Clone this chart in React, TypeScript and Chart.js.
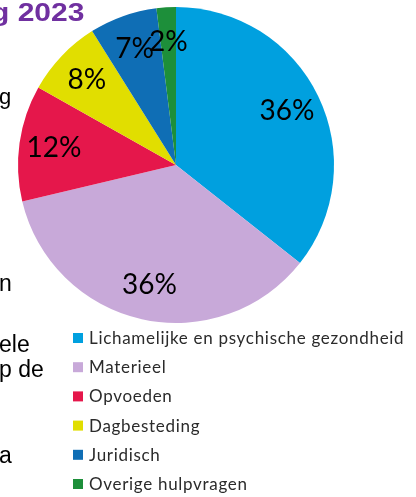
import React, { useEffect, useRef } from "react";
import { Chart, registerables } from "chart.js";

Chart.register(...registerables);

const categories = [
  "Lichamelijke en psychische gezondheid",
  "Materieel",
  "Opvoeden",
  "Dagbesteding",
  "Juridisch",
  "Overige hulpvragen",
];
const percentages = [36, 36, 12, 8, 7, 2];
const sliceColors = ["#00A0DF", "#C8A9D9", "#E5174B", "#E1DE00", "#0F6EB5", "#1D8F3A"];

const labelPlugin = {
  id: "sliceLabels",
  afterDatasetsDraw(chart: any) {
    const ctx = chart.ctx;
    const meta = chart.getDatasetMeta(0);
    const data = chart.data.datasets[0].data as number[];
    ctx.save();
    ctx.font = "28px Lato";
    ctx.fillStyle = "#000000";
    ctx.textAlign = "center";
    ctx.textBaseline = "middle";
    meta.data.forEach((arc: any, i: number) => {
      const p = arc.getProps(["x", "y", "startAngle", "endAngle", "outerRadius"], true);
      const mid = (p.startAngle + p.endAngle) / 2;
      const r = p.outerRadius * 0.78;
      ctx.fillText(data[i] + "%", p.x + Math.cos(mid) * r, p.y + Math.sin(mid) * r);
    });
    ctx.restore();
  },
};

const legendPlugin = {
  id: "columnLegend",
  afterDraw(chart: any) {
    const ctx = chart.ctx;
    const labels = chart.data.labels as string[];
    const colors = chart.data.datasets[0].backgroundColor as string[];
    const x0 = 73;
    const y0 = 344;
    const step = 29.2;
    ctx.save();
    ctx.font = "17px Lato";
    (ctx as any).letterSpacing = "0.7px";
    ctx.textBaseline = "alphabetic";
    ctx.textAlign = "left";
    labels.forEach((lab, i) => {
      const by = y0 + i * step;
      ctx.fillStyle = colors[i];
      ctx.fillRect(x0, by - 11, 10, 10);
      ctx.fillStyle = "#2b2b2b";
      ctx.fillText(lab, x0 + 16, by);
    });
    ctx.restore();
  },
};

const frag = (text: string, left: number, baseline: number, size: number, extra: any = {}) => (
  <div
    style={{
      position: "absolute",
      left,
      top: baseline - 0.8465 * size,
      fontFamily: "'Liberation Sans', Arial, sans-serif",
      fontSize: size,
      lineHeight: size + "px",
      whiteSpace: "pre",
      color: "#000",
      ...extra,
    }}
  >
    {text}
  </div>
);

export default function App() {
  const ref = useRef<HTMLCanvasElement | null>(null);
  useEffect(() => {
    if (!ref.current) return;
    const chart = new Chart(ref.current, {
      type: "pie",
      data: {
        labels: categories,
        datasets: [
          {
            data: percentages,
            backgroundColor: sliceColors,
            borderWidth: 0,
          },
        ],
      },
      options: {
        responsive: false,
        animation: false,
        layout: { padding: { left: 18, top: 7, right: 82, bottom: 174 } },
        plugins: {
          legend: { display: false },
          tooltip: { enabled: false },
        },
      },
      plugins: [labelPlugin, legendPlugin],
    });
    return () => chart.destroy();
  }, []);

  return (
    <div style={{ position: "fixed", left: 0, top: 0, width: 416, height: 497, overflow: "hidden", background: "#fff" }}>
      <canvas ref={ref} width={416} height={497} style={{ position: "absolute", left: 0, top: 0 }} />
      {frag("g 2023", -9, 21, 25, { fontWeight: "bold", color: "#7030A0", transform: "scaleX(1.2)", transformOrigin: "left" })}
      {frag("g", -1, 105, 22)}
      {frag("n", -1, 291, 23)}
      {frag("ele", -1, 352, 23)}
      {frag("p de", -1, 377, 23)}
      {frag("a", -1, 463, 23)}
    </div>
  );
}
